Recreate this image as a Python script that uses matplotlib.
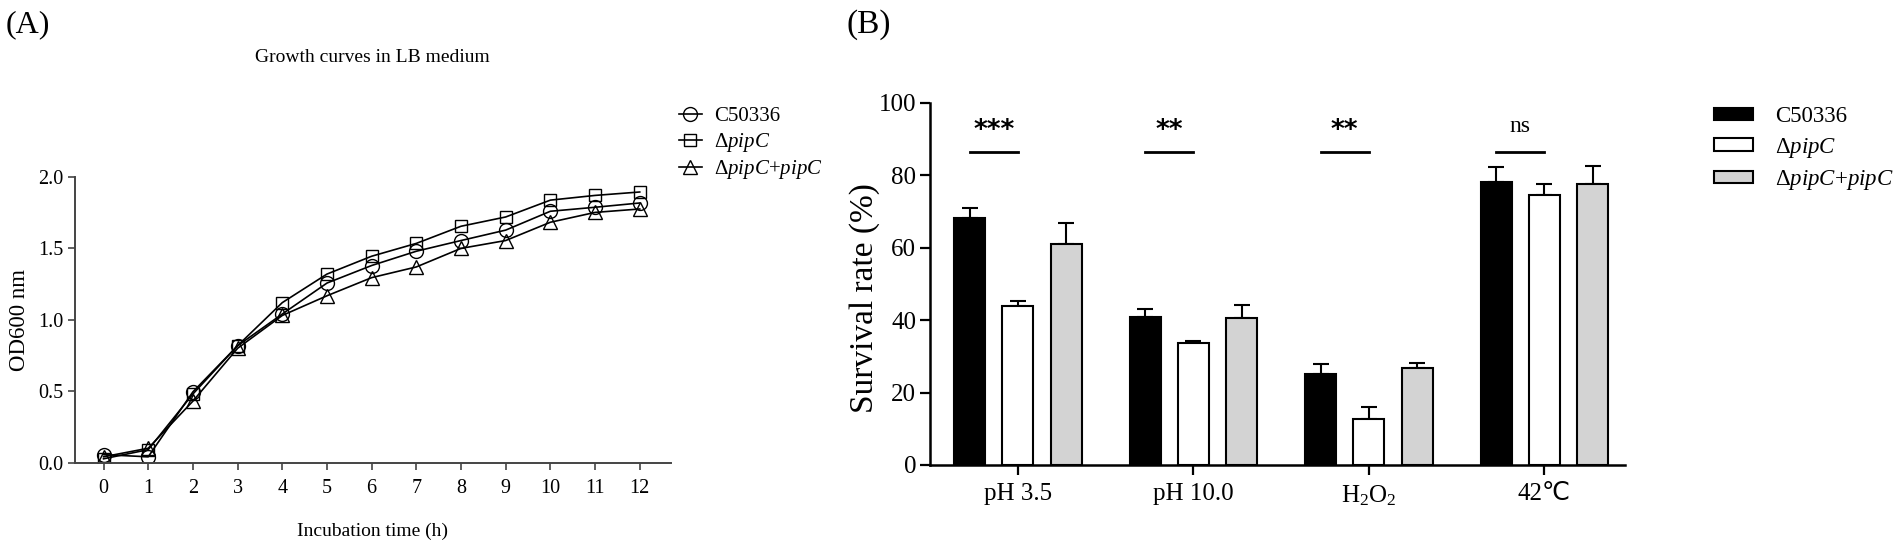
import matplotlib
matplotlib.use("Agg")
import matplotlib.pyplot as plt
from matplotlib.lines import Line2D
from matplotlib.patches import Patch
import numpy as np

plt.rcParams['font.family'] = ['Liberation Serif', 'DejaVu Sans']
plt.rcParams['mathtext.fontset'] = 'custom'
plt.rcParams['mathtext.rm'] = 'Liberation Serif'
plt.rcParams['mathtext.it'] = 'Liberation Serif:italic'

# (A) growth curves
hours = [0, 1, 2, 3, 4, 5, 6, 7, 8, 9, 10, 11, 12]
od_wt = [0.055, 0.04, 0.495, 0.818, 1.04, 1.257, 1.38, 1.48, 1.555, 1.628, 1.76, 1.788, 1.818]
od_mut = [0.026, 0.09, 0.48, 0.818, 1.12, 1.32, 1.445, 1.535, 1.655, 1.72, 1.838, 1.871, 1.895]
od_comp = [0.04, 0.1, 0.43, 0.80, 1.03, 1.168, 1.295, 1.37, 1.5, 1.555, 1.683, 1.752, 1.776]

# (B) survival under stress
stresses = ['pH 3.5', 'pH 10.0', 'H$_2$O$_2$', '42℃']
surv_wt = [68.2, 41.0, 25.0, 78.1]
err_wt = [2.9, 2.1, 3.0, 4.1]
surv_mut = [43.9, 33.6, 12.7, 74.6]
err_mut = [1.5, 0.6, 3.4, 3.0]
surv_comp = [61.0, 40.6, 26.7, 77.6]
err_comp = [5.9, 3.5, 1.6, 5.1]
signif = ['***', '**', '**', 'ns']

labels = ['C50336', 'Δ$\\mathit{pipC}$', 'Δ$\\mathit{pipC}$+$\\mathit{pipC}$']

fig = plt.figure(figsize=(19.02, 5.48), dpi=100)

# ---------- panel A ----------
axA = fig.add_axes([0.0394, 0.156, 0.3134, 0.521])
grey = '#444444'
mk = dict(color='black', lw=1.2, mfc='none', mec='black', mew=1.0)
axA.plot(hours, od_wt, marker='o', ms=10, **mk)
axA.plot(hours, od_mut, marker='s', ms=9, **mk)
axA.plot(hours, od_comp, marker='^', ms=9.5, **mk)
axA.set_xlim(-0.64, 12.7)
axA.set_ylim(0, 2.0)
axA.set_xticks(hours)
axA.set_yticks([0, 0.5, 1.0, 1.5, 2.0])
axA.set_yticklabels(['0.0', '0.5', '1.0', '1.5', '2.0'])
for s in ['top', 'right']:
    axA.spines[s].set_visible(False)
for s in ['left', 'bottom']:
    axA.spines[s].set_color(grey)
    axA.spines[s].set_linewidth(1.4)
axA.tick_params(direction='out', length=5, width=1.2, color=grey, labelsize=14.5, pad=3)
axA.tick_params(axis='x', pad=7)
axA.set_xlabel('Incubation time (h)', fontsize=14, labelpad=18)
axA.set_ylabel('OD600 nm', fontsize=16.5, labelpad=6)
fig.text(0.196, 0.895, 'Growth curves in LB medium', fontsize=14, ha='center', va='center')

handlesA = [Line2D([], [], marker=m, ms=s, **mk) for m, s in zip(['o', 's', '^'], [10, 9, 9.5])]
axA.legend(handlesA, labels, loc='upper left', bbox_to_anchor=(0.357, 0.805),
           bbox_transform=fig.transFigure, frameon=False, fontsize=15,
           handlelength=1.1, handletextpad=0.6, labelspacing=0.21,
           borderpad=0, borderaxespad=0)

fig.text(0.003, 0.955, '(A)', fontsize=23, va='center', ha='left')

# ---------- panel B ----------
axB = fig.add_axes([0.489, 0.1515, 0.3654, 0.6606])
x = np.arange(len(stresses))
off = 0.275
w = 0.176
series = [(surv_wt, err_wt, 'black'), (surv_mut, err_mut, 'white'), (surv_comp, err_comp, '#d3d3d3')]
for i, (vals, errs, fc) in enumerate(series):
    pos = x + (i - 1) * off
    axB.bar(pos, vals, width=w, color=fc, edgecolor='black', linewidth=1.5, zorder=2)
    axB.errorbar(pos, vals, yerr=[np.zeros(len(vals)), errs], fmt='none', ecolor='black',
                 elinewidth=1.5, capsize=6, capthick=1.5, zorder=1)

for xi, s in zip(x, signif):
    axB.plot([xi - off, xi], [86.5, 86.5], color='black', lw=2)
    if s == 'ns':
        axB.text(xi - off / 2, 93.5, s, ha='center', va='center', fontsize=17)
    else:
        axB.text(xi - off / 2, 92.3, s, ha='center', va='center', fontsize=19,
                 family='DejaVu Sans', fontweight='bold')

axB.set_xlim(-0.5, 3.46)
axB.set_ylim(0, 100)
axB.set_xticks(x)
axB.set_xticklabels(stresses)
axB.set_yticks([0, 20, 40, 60, 80, 100])
for s in ['top', 'right']:
    axB.spines[s].set_visible(False)
for s in ['left', 'bottom']:
    axB.spines[s].set_linewidth(1.8)
axB.tick_params(direction='out', length=7, width=1.6, labelsize=18, pad=3)
axB.tick_params(axis='x', pad=6)
axB.set_ylabel('Survival rate (%)', fontsize=24)
axB.yaxis.set_label_coords(-0.072, 0.46)

handlesB = [Patch(facecolor=c, edgecolor='black', linewidth=1.5) for _, _, c in series]
axB.legend(handlesB, labels, loc='upper left', bbox_to_anchor=(0.901, 0.806),
           bbox_transform=fig.transFigure, frameon=False, fontsize=16.5,
           handlelength=1.71, handleheight=0.45, handletextpad=0.95, labelspacing=0.37,
           borderpad=0, borderaxespad=0)

fig.text(0.445, 0.955, '(B)', fontsize=24, va='center', ha='left')

fig.savefig('out.png', dpi=100)
